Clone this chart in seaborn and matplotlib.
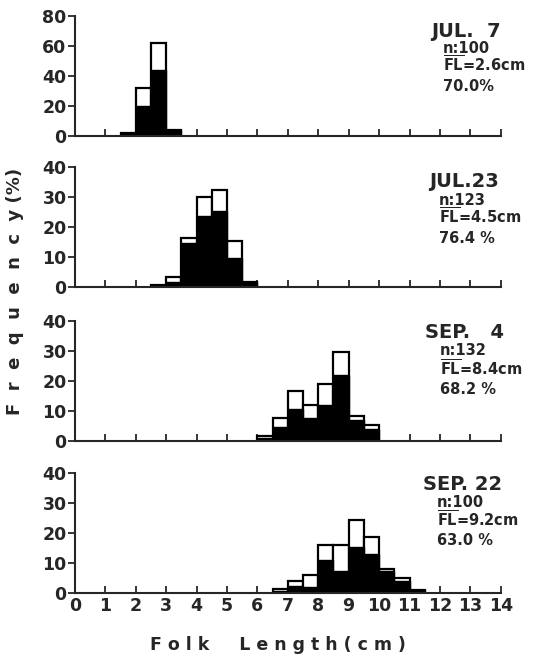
import matplotlib
matplotlib.use("Agg")
import matplotlib.pyplot as plt
import seaborn as sns
import pandas as pd

# sampling dates and summary text for each panel
dates = ["JUL.  7", "JUL.23", "SEP.   4", "SEP. 22"]
n_labels = ["n:100", "n:123", "n:132", "n:100"]
fl_labels = ["2.6cm", "4.5cm", "8.4cm", "9.2cm"]
pct_labels = ["70.0%", "76.4 %", "68.2 %", "63.0 %"]

# length classes (cm, lower edge of 0.5 cm bins)
jul7_bins = [1.5, 2.0, 2.5, 3.0]
jul7_total = [2, 32, 62, 4]
jul7_black = [2, 20, 44, 4]

jul23_bins = [2.5, 3.0, 3.5, 4.0, 4.5, 5.0, 5.5]
jul23_total = [0.8, 3.3, 16.3, 30.1, 32.5, 15.4, 1.6]
jul23_black = [0.8, 1.6, 14.6, 23.6, 25.2, 9.8, 1.6]

sep4_bins = [6.0, 6.5, 7.0, 7.5, 8.0, 8.5, 9.0, 9.5]
sep4_total = [1.5, 7.6, 16.5, 12.1, 18.9, 29.5, 8.3, 5.3]
sep4_black = [0.8, 4.5, 10.6, 7.6, 12.1, 22.0, 6.8, 3.8]

sep22_bins = [6.5, 7.0, 7.5, 8.0, 8.5, 9.0, 9.5, 10.0, 10.5, 11.0]
sep22_total = [1.3, 3.8, 6.0, 15.9, 15.9, 24.1, 18.7, 7.9, 4.9, 1.0]
sep22_black = [0.5, 2.1, 1.9, 11.0, 7.1, 15.1, 12.9, 7.1, 3.8, 1.0]

panels = [
    (jul7_bins, jul7_total, jul7_black, 80, [0, 20, 40, 60, 80]),
    (jul23_bins, jul23_total, jul23_black, 40, [0, 10, 20, 30, 40]),
    (sep4_bins, sep4_total, sep4_black, 40, [0, 10, 20, 30, 40]),
    (sep22_bins, sep22_total, sep22_black, 40, [0, 10, 20, 30, 40]),
]

# layout (figure fractions)
ax_bottoms = [0.795, 0.567, 0.335, 0.106]
ax_height = 0.181
title_x = [0.806, 0.802, 0.794, 0.791]
sub_x = [0.828, 0.821, 0.822, 0.817]
title_y = [0.9446, 0.7175, 0.4900, 0.2615]
n_y = [0.920, 0.6910, 0.4640, 0.2355]
fl_y = [0.8914, 0.6621, 0.4329, 0.2051]
pct_y = [0.8627, 0.6335, 0.4057, 0.1780]

sns.set_style("ticks")
plt.rcParams["font.family"] = ["DejaVu Sans"]
plt.rcParams["font.weight"] = "bold"
plt.rcParams["mathtext.fontset"] = "dejavusans"

fig = plt.figure(figsize=(5.35, 6.63), dpi=100)

for i, (bins, total, black, ymax, yticks) in enumerate(panels):
    ax = fig.add_axes([0.140, ax_bottoms[i], 0.796, ax_height])
    df = pd.DataFrame({
        "center": [b + 0.25 for b in bins],
        "total": total,
        "black": black,
    })
    # white part = whole bar, black part drawn over it
    sns.barplot(data=df, x="center", y="total", native_scale=True, width=1.0,
                color="white", edgecolor="black", linewidth=1.6,
                saturation=1, ax=ax)
    sns.barplot(data=df, x="center", y="black", native_scale=True, width=1.0,
                color="black", edgecolor="black", linewidth=1.0,
                saturation=1, ax=ax)
    ax.set_xlim(0, 14)
    ax.set_ylim(0, ymax)
    ax.set_xticks(range(0, 15))
    ax.set_yticks(yticks)
    ax.set_xlabel("")
    ax.set_ylabel("")
    sns.despine(ax=ax)
    for s in ["left", "bottom"]:
        ax.spines[s].set_linewidth(1.5)
    ax.tick_params(axis="y", direction="out", length=5, width=1.3,
                   labelsize=12.5, pad=1)
    ax.tick_params(axis="x", direction="in", length=5, width=1.3,
                   labelsize=12.5, pad=3)
    if i < 3:
        ax.tick_params(axis="x", labelbottom=False)

    fig.text(title_x[i], title_y[i], dates[i], fontsize=14,
             fontweight="bold", va="baseline")
    fig.text(sub_x[i], n_y[i], n_labels[i], fontsize=10.5,
             fontweight="bold", va="baseline")
    fig.text(sub_x[i], fl_y[i], r"$\overline{\mathbf{FL}}$=" + fl_labels[i],
             fontsize=10.5, fontweight="bold", va="baseline")
    fig.text(sub_x[i], pct_y[i], pct_labels[i], fontsize=10.5,
             fontweight="bold", va="baseline")

fig.text(0.028, 0.56, "F  r  e  q  u  e  n  c  y (%)", rotation=90,
         fontsize=13, fontweight="bold", ha="center", va="center")
fig.text(0.52, 0.027, "F o l k     L e n g t h ( c m )",
         fontsize=12.5, fontweight="bold", ha="center", va="center")

fig.savefig("out.png", dpi=100)
